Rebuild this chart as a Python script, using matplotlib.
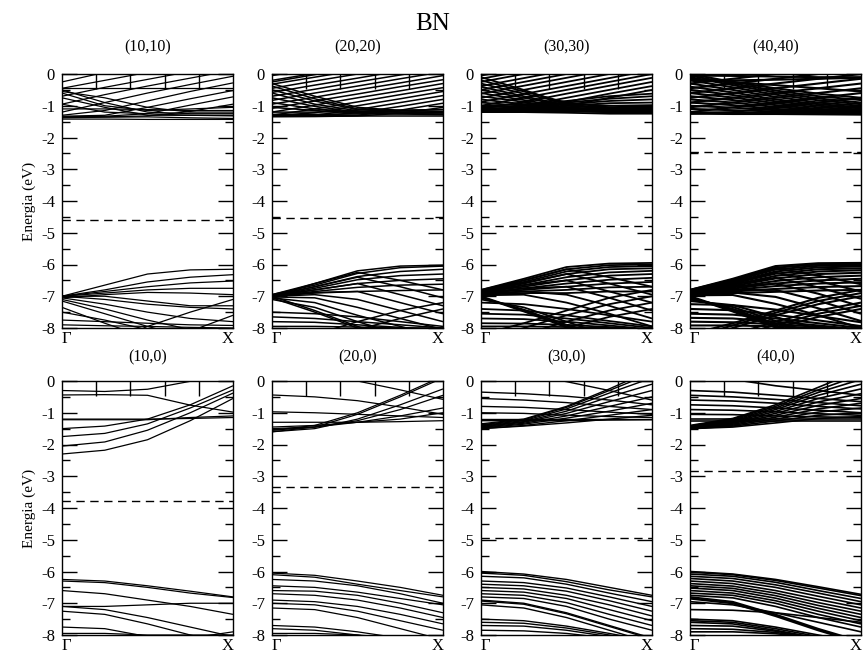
import matplotlib
matplotlib.use("Agg")
import matplotlib.pyplot as plt
from matplotlib.ticker import MultipleLocator, FixedLocator

plt.rcParams["font.family"] = ["Liberation Serif", "DejaVu Serif"]

# k-path sampling points (Gamma -> X), shared by every band below
K = [0.0, 0.25, 0.5, 0.75, 1.0]

TITLES = ["(10,10)", "(20,20)", "(30,30)", "(40,40)",
          "(10,0)", "(20,0)", "(30,0)", "(40,0)"]
FERMI = [-4.6, -4.55, -4.8, -2.45, -3.78, -3.35, -4.95, -2.82]

# ---- armchair (n,n) ----
CB_10_10 = [
    [-0.45, -0.45, -0.45, -0.45, -0.45],
    [-1.42, -1.42, -1.43, -1.43, -1.43],
    [-1.38, -1.36, -1.35, -1.38, -1.40],
    [-0.25, 0.05, 0.30, 0.55, 0.80],
    [-0.45, -0.20, 0.05, 0.30, 0.55],
    [-0.70, -0.42, -0.17, 0.08, 0.33],
    [-0.95, -0.65, -0.38, -0.13, 0.12],
    [-1.20, -0.90, -0.60, -0.33, -0.07],
    [-1.30, -1.15, -0.85, -0.55, -0.28],
    [-1.33, -1.30, -1.05, -0.78, -0.52],
    [-1.35, -1.33, -1.25, -0.98, -0.72],
    [-1.36, -1.35, -1.32, -1.18, -0.95],
    [-0.50, -0.90, -1.20, -1.25, -1.25],
    [-0.60, -1.00, -1.15, -1.10, -1.05],
    [-0.75, -1.05, -1.30, -1.30, -1.30],
    [-0.55, -0.75, -1.05, -1.20, -1.20],
    [-1.10, -1.10, -1.12, -1.15, -1.15],
    [-0.95, -1.20, -1.25, -1.30, -1.32],
]
VB_10_10 = [
    [-7.00, -6.65, -6.30, -6.17, -6.15],
    [-7.00, -6.80, -6.55, -6.40, -6.32],
    [-7.00, -6.85, -6.70, -6.58, -6.52],
    [-7.00, -6.90, -6.80, -6.75, -6.75],
    [-7.05, -6.95, -6.88, -6.90, -6.95],
    [-7.00, -7.10, -7.25, -7.35, -7.40],
    [-7.05, -7.25, -7.50, -7.70, -7.80],
    [-7.10, -7.40, -7.75, -8.05, -8.30],
    [-7.15, -7.55, -7.95, -8.30, -8.60],
    [-8.90, -8.50, -7.95, -7.50, -7.10],
    [-9.60, -9.10, -8.60, -8.10, -7.60],
    [-7.75, -7.80, -7.85, -7.90, -7.92],
    [-7.90, -7.93, -7.95, -7.98, -8.00],
    [-7.35, -7.85, -8.30, -8.60, -8.80],
    [-7.50, -7.75, -8.05, -8.30, -8.50],
    [-7.00, -7.00, -7.15, -7.30, -7.30],
]

CB_20_20 = [
    [-1.33, -1.33, -1.33, -1.33, -1.33],
    [-1.27, -1.27, -1.26, -1.24, -1.22],
    [-1.20, -1.20, -1.18, -1.15, -1.12],
    [-0.30, -0.70, -1.05, -1.15, -1.18],
    [-0.38, -0.78, -1.10, -1.20, -1.22],
    [-0.50, -0.85, -1.12, -1.14, -1.12],
    [-0.60, -0.95, -1.16, -1.20, -1.21],
    [-0.75, -1.02, -1.20, -1.25, -1.26],
    [-0.90, -1.10, -1.20, -1.20, -1.20],
    [-1.05, -1.15, -1.23, -1.26, -1.28],
    [-0.25, -0.02, 0.20, 0.40, 0.60],
    [-0.05, 0.18, 0.40, 0.62, 0.85],
    [-0.20, 0.02, 0.25, 0.47, 0.70],
    [-0.32, -0.10, 0.12, 0.35, 0.57],
    [-0.45, -0.22, 0.00, 0.22, 0.45],
    [-0.58, -0.35, -0.13, 0.10, 0.32],
    [-0.70, -0.48, -0.25, -0.03, 0.20],
    [-0.83, -0.60, -0.38, -0.15, 0.07],
    [-0.95, -0.73, -0.50, -0.28, -0.05],
    [-1.08, -0.85, -0.63, -0.40, -0.18],
    [-1.20, -0.98, -0.75, -0.53, -0.30],
    [-1.30, -1.10, -0.88, -0.65, -0.43],
    [-1.32, -1.22, -1.00, -0.78, -0.55],
    [-1.33, -1.30, -1.12, -0.90, -0.68],
    [-1.33, -1.32, -1.22, -1.02, -0.80],
    [-1.34, -1.33, -1.30, -1.14, -0.92],
    [-1.34, -1.34, -1.32, -1.24, -1.05],
]
VB_20_20 = [
    [-6.95, -6.60, -6.20, -6.05, -6.02],
    [-6.95, -6.65, -6.28, -6.10, -6.05],
    [-6.97, -6.70, -6.38, -6.22, -6.15],
    [-7.00, -6.75, -6.48, -6.35, -6.30],
    [-7.00, -6.80, -6.60, -6.50, -6.45],
    [-7.00, -6.85, -6.72, -6.65, -6.62],
    [-7.00, -6.90, -6.85, -6.82, -6.80],
    [-7.00, -6.60, -6.25, -6.50, -6.80],
    [-7.00, -6.70, -6.40, -6.70, -7.05],
    [-7.00, -6.80, -6.60, -6.95, -7.30],
    [-7.00, -6.88, -6.85, -7.20, -7.55],
    [-7.00, -6.95, -7.10, -7.45, -7.80],
    [-7.02, -7.05, -7.35, -7.70, -8.05],
    [-7.05, -7.20, -7.60, -7.95, -8.30],
    [-7.00, -7.45, -7.95, -8.40, -8.80],
    [-7.05, -7.50, -8.00, -8.45, -8.85],
    [-7.10, -7.35, -7.80, -8.20, -8.60],
    [-7.50, -7.55, -7.65, -7.80, -7.95],
    [-7.65, -7.70, -7.80, -7.90, -8.00],
    [-7.80, -7.82, -7.90, -7.98, -8.05],
    [-7.95, -7.95, -7.97, -8.00, -8.00],
    [-8.60, -8.20, -7.80, -7.45, -7.20],
    [-8.80, -8.45, -8.05, -7.70, -7.40],
]

CB_30_30 = [
    [-1.20, -1.20, -1.22, -1.25, -1.25],
    [-1.15, -1.15, -1.18, -1.20, -1.22],
    [-1.10, -1.12, -1.15, -1.18, -1.20],
    [-0.10, -0.50, -0.95, -1.10, -1.15],
    [-0.20, -0.55, -0.90, -1.05, -1.10],
    [-0.30, -0.62, -0.92, -1.00, -1.05],
    [-0.40, -0.70, -0.98, -1.10, -1.12],
    [-0.50, -0.75, -1.00, -1.08, -1.10],
    [-0.60, -0.82, -1.05, -1.12, -1.15],
    [-0.70, -0.88, -1.08, -1.15, -1.18],
    [-0.80, -0.95, -1.10, -1.18, -1.20],
    [-0.90, -1.00, -1.12, -1.18, -1.22],
    [-1.00, -1.05, -1.15, -1.20, -1.22],
    [-1.08, -1.10, -1.15, -1.18, -1.20],
    [-0.05, 0.20, 0.45, 0.70, 0.95],
    [-0.15, 0.10, 0.35, 0.60, 0.85],
    [-0.25, 0.00, 0.25, 0.50, 0.75],
    [-0.38, -0.13, 0.12, 0.37, 0.62],
    [-0.50, -0.25, 0.00, 0.25, 0.50],
    [-0.62, -0.37, -0.12, 0.13, 0.38],
    [-0.75, -0.50, -0.25, 0.00, 0.25],
    [-0.88, -0.63, -0.38, -0.13, 0.12],
    [-1.00, -0.75, -0.50, -0.25, 0.00],
    [-1.10, -0.88, -0.62, -0.37, -0.12],
    [-1.15, -1.00, -0.75, -0.50, -0.25],
    [-1.18, -1.10, -0.88, -0.62, -0.38],
    [-1.20, -1.15, -1.00, -0.75, -0.50],
    [-1.00, -0.95, -0.85, -0.70, -0.62],
    [-1.05, -1.00, -0.90, -0.78, -0.70],
    [-1.10, -1.05, -0.95, -0.85, -0.80],
    [-1.12, -1.08, -1.00, -0.92, -0.90],
    [-1.15, -1.12, -1.05, -1.00, -0.98],
    [-1.18, -1.15, -1.10, -1.08, -1.06],
    [-1.20, -1.18, -1.15, -1.13, -1.12],
]
VB_30_30 = [
    [-6.80, -6.45, -6.08, -5.97, -5.95],
    [-6.80, -6.50, -6.15, -6.02, -6.00],
    [-6.82, -6.55, -6.22, -6.08, -6.05],
    [-6.83, -6.60, -6.30, -6.15, -6.12],
    [-6.85, -6.65, -6.40, -6.25, -6.20],
    [-6.87, -6.70, -6.50, -6.35, -6.30],
    [-6.90, -6.75, -6.60, -6.48, -6.42],
    [-6.90, -6.80, -6.70, -6.60, -6.55],
    [-6.92, -6.85, -6.80, -6.72, -6.70],
    [-6.95, -6.90, -6.90, -6.85, -6.85],
    [-6.85, -6.50, -6.15, -6.40, -6.70],
    [-6.87, -6.58, -6.30, -6.60, -6.95],
    [-6.90, -6.65, -6.50, -6.85, -7.20],
    [-6.92, -6.75, -6.70, -7.05, -7.45],
    [-6.95, -6.85, -6.95, -7.30, -7.70],
    [-6.97, -6.95, -7.20, -7.55, -7.95],
    [-7.00, -7.45, -7.95, -8.40, -8.80],
    [-7.02, -7.48, -7.98, -8.42, -8.82],
    [-7.05, -7.42, -7.90, -8.35, -8.75],
    [-7.10, -7.35, -7.80, -8.25, -8.65],
    [-7.20, -7.25, -7.40, -7.60, -7.80],
    [-7.40, -7.45, -7.60, -7.78, -7.95],
    [-7.55, -7.58, -7.70, -7.85, -8.00],
    [-7.70, -7.72, -7.80, -7.92, -8.05],
    [-7.85, -7.86, -7.90, -7.97, -8.05],
    [-7.95, -7.95, -7.97, -8.00, -8.05],
    [-8.60, -8.20, -7.80, -7.45, -7.20],
    [-8.80, -8.40, -8.00, -7.65, -7.40],
    [-8.40, -8.00, -7.60, -7.25, -7.00],
    [-8.20, -7.85, -7.45, -7.05, -6.80],
]

CB_40_40 = [
    [0.00, -0.25, -0.45, -0.62, -0.75],
    [-0.05, -0.30, -0.52, -0.70, -0.82],
    [-0.10, -0.35, -0.58, -0.77, -0.90],
    [-0.20, -0.42, -0.65, -0.83, -0.95],
    [-0.30, -0.50, -0.72, -0.90, -1.00],
    [-0.40, -0.58, -0.80, -0.95, -1.05],
    [-0.50, -0.66, -0.86, -1.00, -1.08],
    [-0.60, -0.74, -0.92, -1.05, -1.12],
    [-0.70, -0.82, -0.98, -1.10, -1.15],
    [-0.80, -0.90, -1.04, -1.13, -1.18],
    [-0.90, -0.98, -1.10, -1.16, -1.20],
    [-1.00, -1.06, -1.14, -1.19, -1.22],
    [-1.10, -1.14, -1.18, -1.22, -1.24],
    [-1.20, -1.22, -1.22, -1.24, -1.25],
    [-1.25, -1.26, -1.26, -1.27, -1.28],
    [-0.15, -0.25, -0.35, -0.45, -0.55],
    [-0.60, -0.45, -0.30, -0.15, 0.00],
    [-0.75, -0.60, -0.45, -0.30, -0.15],
    [-0.90, -0.75, -0.60, -0.45, -0.30],
    [-1.05, -0.90, -0.75, -0.60, -0.45],
    [-1.20, -1.05, -0.90, -0.75, -0.60],
    [-0.45, -0.30, -0.15, 0.00, 0.15],
    [-0.30, -0.15, 0.00, 0.15, 0.30],
    [-1.25, -1.20, -1.05, -0.90, -0.75],
    [-0.05, -0.06, -0.08, -0.10, -0.10],
    [-0.20, -0.20, -0.18, -0.15, -0.12],
]
VB_40_40 = [
    [-6.80, -6.45, -6.05, -5.96, -5.95],
    [-6.80, -6.48, -6.10, -6.00, -5.98],
    [-6.81, -6.52, -6.16, -6.04, -6.02],
    [-6.82, -6.56, -6.22, -6.09, -6.06],
    [-6.83, -6.60, -6.29, -6.15, -6.12],
    [-6.85, -6.64, -6.36, -6.22, -6.18],
    [-6.86, -6.68, -6.44, -6.30, -6.26],
    [-6.88, -6.72, -6.52, -6.40, -6.35],
    [-6.90, -6.76, -6.60, -6.50, -6.45],
    [-6.91, -6.80, -6.68, -6.60, -6.56],
    [-6.93, -6.85, -6.77, -6.71, -6.68],
    [-6.95, -6.90, -6.86, -6.82, -6.80],
    [-6.84, -6.50, -6.12, -6.35, -6.62],
    [-6.86, -6.56, -6.26, -6.52, -6.85],
    [-6.88, -6.62, -6.42, -6.72, -7.08],
    [-6.90, -6.70, -6.60, -6.92, -7.32],
    [-6.93, -6.80, -6.80, -7.14, -7.55],
    [-6.95, -6.88, -7.02, -7.38, -7.78],
    [-6.97, -6.96, -7.24, -7.60, -8.00],
    [-7.00, -7.45, -7.95, -8.40, -8.80],
    [-7.02, -7.48, -7.98, -8.42, -8.82],
    [-7.04, -7.44, -7.92, -8.36, -8.76],
    [-7.06, -7.40, -7.86, -8.30, -8.70],
    [-7.10, -7.34, -7.78, -8.22, -8.62],
    [-7.15, -7.28, -7.65, -8.05, -8.45],
    [-7.25, -7.28, -7.42, -7.62, -7.82],
    [-7.40, -7.44, -7.58, -7.76, -7.94],
    [-7.55, -7.58, -7.70, -7.85, -8.00],
    [-7.68, -7.70, -7.80, -7.92, -8.05],
    [-7.80, -7.82, -7.88, -7.96, -8.05],
    [-7.92, -7.92, -7.95, -8.00, -8.05],
    [-8.60, -8.20, -7.80, -7.45, -7.20],
    [-8.70, -8.30, -7.90, -7.55, -7.30],
    [-8.80, -8.40, -8.00, -7.65, -7.40],
    [-8.40, -8.00, -7.60, -7.25, -7.00],
    [-8.30, -7.92, -7.52, -7.15, -6.90],
    [-8.20, -7.85, -7.45, -7.05, -6.80],
]

# ---- zigzag (n,0) ----
CB_10_0 = [
    [-0.30, -0.33, -0.26, -0.01, 0.24],
    [-0.44, -0.43, -0.45, -0.76, -0.98],
    [-1.20, -1.20, -1.20, -1.18, -1.15],
    [-1.22, -1.22, -1.22, -1.15, -1.10],
    [-1.50, -1.42, -1.20, -0.75, -0.15],
    [-1.75, -1.65, -1.35, -0.85, -0.28],
    [-2.05, -1.92, -1.55, -1.00, -0.38],
    [-2.30, -2.18, -1.85, -1.25, -0.55],
]
VB_10_0 = [
    [-6.25, -6.30, -6.45, -6.62, -6.80],
    [-6.30, -6.35, -6.50, -6.68, -6.82],
    [-6.60, -6.70, -6.90, -7.10, -7.35],
    [-7.10, -7.10, -7.05, -7.00, -7.00],
    [-7.10, -7.20, -7.45, -7.75, -8.05],
    [-7.25, -7.35, -7.65, -8.00, -8.30],
    [-7.75, -7.80, -8.05, -8.30, -8.50],
    [-8.50, -8.40, -8.30, -8.10, -7.90],
    [-7.95, -7.95, -8.00, -8.00, -8.00],
]

CB_20_0 = [
    [0.35, 0.20, 0.00, -0.28, -0.58],
    [-0.44, -0.50, -0.62, -0.82, -1.05],
    [-0.97, -1.00, -1.05, -1.10, -1.15],
    [-1.30, -1.30, -1.30, -1.28, -1.25],
    [-1.60, -1.45, -1.05, -0.50, 0.10],
    [-1.55, -1.40, -1.00, -0.45, 0.15],
    [-1.60, -1.50, -1.20, -0.75, -0.25],
    [-1.55, -1.45, -1.25, -0.90, -0.45],
    [-1.50, -1.45, -1.30, -1.10, -0.85],
    [-1.45, -1.40, -1.30, -1.20, -1.00],
]
VB_20_0 = [
    [-6.05, -6.12, -6.30, -6.50, -6.75],
    [-6.10, -6.18, -6.40, -6.60, -6.80],
    [-6.25, -6.30, -6.45, -6.70, -7.00],
    [-6.45, -6.50, -6.65, -6.85, -7.05],
    [-6.60, -6.62, -6.75, -7.00, -7.30],
    [-6.70, -6.75, -6.90, -7.15, -7.45],
    [-6.90, -6.95, -7.10, -7.35, -7.65],
    [-7.00, -7.05, -7.25, -7.55, -7.85],
    [-7.15, -7.20, -7.45, -7.80, -8.15],
    [-7.70, -7.75, -7.90, -8.10, -8.30],
    [-7.80, -7.85, -8.00, -8.20, -8.40],
    [-7.95, -7.95, -8.00, -8.10, -8.20],
]

CB_30_0 = [
    [0.40, 0.20, -0.02, -0.30, -0.60],
    [-0.35, -0.40, -0.48, -0.60, -0.75],
    [-0.55, -0.60, -0.68, -0.80, -0.90],
    [-0.80, -0.83, -0.90, -0.98, -1.05],
    [-1.00, -1.02, -1.08, -1.12, -1.15],
    [-1.20, -1.20, -1.20, -1.20, -1.20],
    [-1.25, -1.25, -1.25, -1.23, -1.22],
    [-1.35, -1.20, -0.80, -0.25, 0.35],
    [-1.38, -1.22, -0.83, -0.30, 0.25],
    [-1.40, -1.25, -0.88, -0.38, 0.10],
    [-1.42, -1.28, -0.95, -0.50, -0.10],
    [-1.44, -1.30, -1.02, -0.65, -0.30],
    [-1.46, -1.33, -1.10, -0.80, -0.50],
    [-1.48, -1.36, -1.17, -0.95, -0.70],
    [-1.50, -1.40, -1.25, -1.08, -0.90],
    [-1.50, -1.42, -1.32, -1.20, -1.08],
]
VB_30_0 = [
    [-6.00, -6.08, -6.25, -6.50, -6.75],
    [-6.05, -6.12, -6.32, -6.58, -6.80],
    [-6.15, -6.20, -6.40, -6.68, -6.95],
    [-6.30, -6.35, -6.52, -6.80, -7.10],
    [-6.40, -6.45, -6.62, -6.92, -7.25],
    [-6.50, -6.55, -6.75, -7.05, -7.40],
    [-6.60, -6.65, -6.85, -7.20, -7.55],
    [-6.70, -6.75, -6.98, -7.35, -7.70],
    [-6.80, -6.85, -7.10, -7.50, -7.85],
    [-6.90, -7.00, -7.30, -7.70, -8.10],
    [-6.93, -7.03, -7.33, -7.73, -8.13],
    [-7.05, -7.15, -7.45, -7.85, -8.25],
    [-7.50, -7.55, -7.72, -7.95, -8.20],
    [-7.60, -7.63, -7.78, -8.00, -8.25],
    [-7.70, -7.72, -7.85, -8.05, -8.30],
    [-7.85, -7.87, -7.95, -8.10, -8.30],
]

CB_40_0 = [
    [0.30, 0.05, -0.15, -0.30, -0.45],
    [-0.30, -0.35, -0.45, -0.55, -0.65],
    [-0.45, -0.50, -0.58, -0.68, -0.78],
    [-0.60, -0.63, -0.70, -0.80, -0.88],
    [-0.75, -0.78, -0.85, -0.92, -1.00],
    [-0.90, -0.92, -0.97, -1.03, -1.08],
    [-1.05, -1.06, -1.10, -1.13, -1.15],
    [-1.20, -1.20, -1.20, -1.20, -1.20],
    [-1.25, -1.25, -1.25, -1.25, -1.25],
    [-1.40, -1.18, -0.75, -0.20, 0.35],
    [-1.42, -1.20, -0.80, -0.28, 0.20],
    [-1.44, -1.23, -0.85, -0.36, 0.05],
    [-1.45, -1.26, -0.90, -0.45, -0.10],
    [-1.46, -1.28, -0.96, -0.55, -0.25],
    [-1.47, -1.31, -1.02, -0.66, -0.40],
    [-1.48, -1.33, -1.08, -0.77, -0.55],
    [-1.49, -1.36, -1.14, -0.88, -0.70],
    [-1.50, -1.39, -1.20, -0.98, -0.85],
    [-1.50, -1.42, -1.26, -1.08, -1.00],
    [-1.50, -1.45, -1.32, -1.18, -1.12],
]
VB_40_0 = [
    [-6.00, -6.08, -6.25, -6.48, -6.72],
    [-6.02, -6.10, -6.28, -6.52, -6.76],
    [-6.08, -6.15, -6.34, -6.60, -6.85],
    [-6.15, -6.22, -6.42, -6.68, -6.95],
    [-6.22, -6.30, -6.50, -6.78, -7.05],
    [-6.30, -6.38, -6.60, -6.88, -7.15],
    [-6.38, -6.46, -6.68, -6.98, -7.25],
    [-6.45, -6.53, -6.76, -7.07, -7.35],
    [-6.52, -6.60, -6.84, -7.16, -7.45],
    [-6.60, -6.68, -6.92, -7.25, -7.55],
    [-6.68, -6.75, -7.00, -7.35, -7.65],
    [-6.75, -6.83, -7.10, -7.45, -7.75],
    [-6.80, -6.95, -7.35, -7.80, -8.20],
    [-6.83, -6.98, -7.38, -7.83, -8.23],
    [-6.86, -7.01, -7.41, -7.86, -8.26],
    [-6.95, -7.05, -7.30, -7.60, -7.90],
    [-7.20, -7.22, -7.30, -7.45, -7.60],
    [-7.50, -7.55, -7.75, -8.00, -8.25],
    [-7.55, -7.60, -7.80, -8.05, -8.30],
    [-7.60, -7.65, -7.85, -8.10, -8.35],
    [-7.70, -7.72, -7.88, -8.10, -8.30],
    [-7.80, -7.82, -7.92, -8.10, -8.30],
    [-7.90, -7.90, -7.96, -8.08, -8.20],
]

PANELS = [
    (CB_10_10, VB_10_10), (CB_20_20, VB_20_20),
    (CB_30_30, VB_30_30), (CB_40_40, VB_40_40),
    (CB_10_0, VB_10_0), (CB_20_0, VB_20_0),
    (CB_30_0, VB_30_0), (CB_40_0, VB_40_0),
]
LINE_W = [0.9, 1.1, 1.3, 1.5, 0.9, 0.9, 1.0, 1.2]

fig = plt.figure(figsize=(8.66, 6.59), dpi=100)

lefts = [62, 272, 481, 690]
bottoms = [659 - 328, 659 - 635]
W, H = 171, 254

for i, (cb, vb) in enumerate(PANELS):
    row, col = divmod(i, 4)
    ax = fig.add_axes([lefts[col] / 866, bottoms[row] / 659, W / 866, H / 659])

    for band in cb + vb:
        ax.plot(K, band, color="black", lw=LINE_W[i], solid_capstyle="butt")
    ax.axhline(FERMI[i], color="black", lw=1.0, ls=(0, (6, 4)))

    ax.set_xlim(0, 1)
    ax.set_ylim(-8, 0)

    # y ticks: both sides, inward
    ax.yaxis.set_minor_locator(MultipleLocator(0.5))
    ax.set_yticks(range(-8, 1))
    ax.set_yticklabels([str(v) for v in range(-8, 1)])
    ax.tick_params(axis="y", which="major", direction="in", length=11, width=1,
                   left=True, right=True, labelsize=12, pad=5)
    ax.tick_params(axis="y", which="minor", direction="in", length=6, width=1,
                   left=True, right=True)

    # x: Gamma / X labels (slightly inside the frame), top ticks only
    ax.set_xticks([0.025, 0.97])
    ax.set_xticklabels(["Γ", "X"])
    ax.xaxis.set_minor_locator(FixedLocator([0.2, 0.4, 0.6, 0.8]))
    ax.tick_params(axis="x", which="major", length=0, labelsize=12, pad=2)
    ax.tick_params(axis="x", which="minor", direction="in", length=11, width=1,
                   top=True, bottom=False)

    for sp in ax.spines.values():
        sp.set_linewidth(1.0)

    ax.set_title(TITLES[i], fontsize=11.5, pad=16 if row == 0 else 14)
    if col == 0:
        ax.set_ylabel("Energia (eV)", fontsize=11, labelpad=4)

fig.text(0.5, 1 - 24 / 659, "BN", ha="center", va="center", fontsize=18)

fig.savefig("out.png", dpi=100)
